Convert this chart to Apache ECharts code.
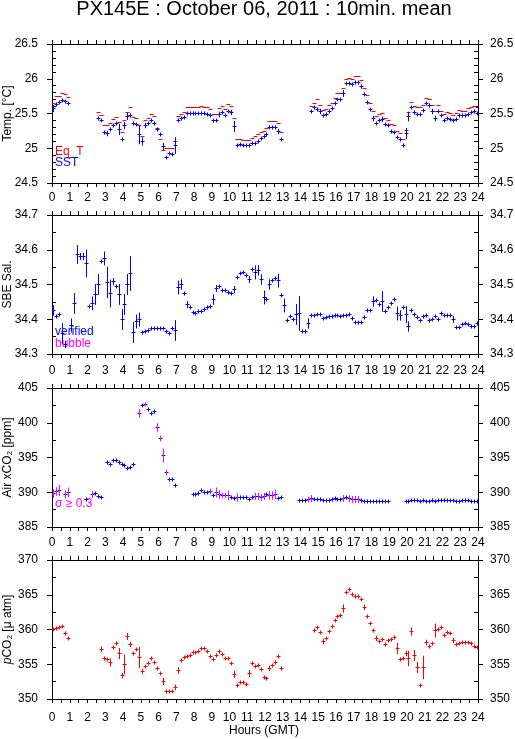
<!DOCTYPE html>
<html><head><meta charset="utf-8">
<script src="https://cdn.jsdelivr.net/npm/echarts@6/dist/echarts.min.js"></script>
<style>html,body{margin:0;padding:0;background:#fff}#c{width:515px;height:739px}</style>
</head><body><div id="c"></div>
<script>
// Each entry: [10-min slot index of the day (0..143), value, error/sigma, flag]
const eqT = [
[0,25.65],[1,25.75],[2,25.75],[3,25.79],[4,25.78],[5,25.74],
[15,25.52],[16,25.48],[17,25.34],
[18,25.33],[19,25.36],[20,25.42],[21,25.45],[22,25.38],[23,25.23],
[24,25.40],[25,25.52],[26,25.59],[27,25.45],[28,25.44],[29,25.33],
[30,25.18],[31,25.41],[32,25.44],[33,25.49],[34,25.47],[35,25.29],
[36,25.13],[37,24.98],[38,25.00],[39,25.00],[40,25.00],[41,25.10],
[42,25.47],[43,25.50],[44,25.52],[45,25.59],[46,25.59],[47,25.59],
[48,25.59],[49,25.60],[50,25.61],[51,25.60],[52,25.59],[53,25.57],
[54,25.49],[55,25.49],[56,25.58],[57,25.61],[58,25.57],[59,25.64],
[60,25.61],[61,25.44],[62,25.13],[63,25.14],[64,25.12],[65,25.12],
[66,25.12],[67,25.15],[68,25.18],[69,25.20],[70,25.24],[71,25.25],
[72,25.29],[73,25.39],[74,25.39],[75,25.39],[76,25.36],[77,25.23],
[87,25.61],[88,25.65],[89,25.71],
[90,25.62],[91,25.55],[92,25.57],[93,25.62],[94,25.65],[95,25.72],
[96,25.80],[97,25.80],[98,25.87],[99,26.00],[100,26.01],[101,26.00],
[102,26.04],[103,26.04],[104,25.98],[105,25.87],[106,25.76],[107,25.65],
[108,25.54],[109,25.47],[110,25.49],[111,25.51],[112,25.44],[113,25.41],
[114,25.35],[115,25.34],[116,25.25],[117,25.22],[118,25.13],[119,25.26],
[120,25.52],[121,25.66],[122,25.61],[123,25.59],[124,25.59],[125,25.62],
[126,25.72],[127,25.71],[128,25.62],[129,25.53],[130,25.62],[131,25.54],
[132,25.49],[133,25.52],[134,25.51],[135,25.48],[136,25.51],[137,25.55],
[138,25.54],[139,25.54],[140,25.58],[141,25.60],[142,25.61],[143,25.59]
];
const sst = [
[0,25.58,0.05],[1,25.64],[2,25.66],[3,25.70],[4,25.68],[5,25.65],
[15,25.44],[16,25.40],[17,25.23,0.03],
[18,25.22,0.04],[19,25.28,0.03],[20,25.34],[21,25.36],[22,25.28,0.08],[23,25.13,0.03],
[24,25.33,0.05],[25,25.46,0.05],[26,25.48,0.03],[27,25.36],[28,25.35],[29,25.21,0.14],
[30,25.10,0.06],[31,25.33,0.04],[32,25.37],[33,25.41],[34,25.36,0.03],[35,25.28,0.03],
[36,25.21],[37,25.03,0.05],[38,24.87],[39,24.93],[40,24.92],[41,25.05,0.12],
[42,25.40],[43,25.43],[44,25.45],[45,25.51],[46,25.51],[47,25.51],
[48,25.51],[49,25.51],[50,25.51],[51,25.51],[52,25.50],[53,25.48],
[54,25.41],[55,25.41],[56,25.50,0.04],[57,25.52],[58,25.48],[59,25.54],
[60,25.52,0.04],[61,25.32,0.08],[62,25.04],[63,25.06],[64,25.04],[65,25.05],
[66,25.05],[67,25.08],[68,25.08],[69,25.10],[70,25.15],[71,25.17],
[72,25.20],[73,25.30],[74,25.30],[75,25.30],[76,25.25,0.04],[77,25.13],
[87,25.54,0.03],[88,25.59],[89,25.57],
[90,25.54,0.04],[91,25.48],[92,25.49],[93,25.54],[94,25.58],[95,25.65],
[96,25.71],[97,25.71],[98,25.79,0.05],[99,25.94],[100,25.94],[101,25.93],
[102,25.96],[103,25.96],[104,25.89,0.03],[105,25.78],[106,25.67],[107,25.57],
[108,25.44,0.04],[109,25.36],[110,25.40],[111,25.42,0.04],[112,25.35],[113,25.33],
[114,25.25],[115,25.24],[116,25.16],[117,25.13],[118,25.04],[119,25.22,0.08],
[120,25.47,0.07],[121,25.59],[122,25.52],[123,25.50],[124,25.50],[125,25.55],
[126,25.65],[127,25.62],[128,25.53,0.04],[129,25.44,0.04],[130,25.53],[131,25.48],
[132,25.40],[133,25.43],[134,25.42],[135,25.40],[136,25.42],[137,25.48],
[138,25.48],[139,25.48],[140,25.50],[141,25.52],[142,25.53],[143,25.51]
];
const sal = [
[0,34.428,0.015],[1,34.408],[2,34.415],[3,34.36,0.03],[4,34.33,0.01],
[6,34.384,0.02],[7,34.447,0.03],[8,34.589,0.027],[9,34.582,0.01],[10,34.582,0.01],[11,34.563,0.04],
[12,34.437],[13,34.447,0.02],[14,34.473,0.03],[15,34.502,0.03],[16,34.568],[17,34.575,0.02],
[18,34.507,0.045],[19,34.476,0.04],[20,34.510,0.01],[21,34.495],[22,34.473,0.03],[23,34.401,0.03],
[24,34.444,0.03],[25,34.502,0.03],[26,34.532,0.05],[27,34.362,0.03],[28,34.394,0.02],[29,34.400,0.02],
[30,34.362],[31,34.365],[32,34.370],[33,34.374],[34,34.374],[35,34.374],
[36,34.374],[37,34.374],[38,34.365],[39,34.360],[40,34.374],[41,34.370,0.03],
[42,34.493,0.02],[43,34.502,0.015],[44,34.476],[45,34.444,0.01],[46,34.434],[47,34.421],
[48,34.418],[49,34.425],[50,34.425],[51,34.430],[52,34.434],[53,34.437],
[54,34.459,0.015],[55,34.490,0.01],[56,34.497],[57,34.483],[58,34.483],[59,34.479],
[60,34.476],[61,34.486,0.01],[62,34.522],[63,34.534],[64,34.537],[65,34.526],
[66,34.515,0.01],[67,34.545],[68,34.536,0.02],[69,34.543,0.015],[70,34.515,0.015],[71,34.464,0.02],
[72,34.458],[73,34.502,0.015],[74,34.512],[75,34.519],[76,34.512,0.02],[77,34.469],
[78,34.441,0.02],[79,34.399],[80,34.408],[81,34.401],[82,34.416,0.03],[83,34.418,0.05],
[84,34.365],[85,34.367],[86,34.389,0.015],[87,34.412],[88,34.412],[89,34.414],
[90,34.414],[91,34.404],[92,34.406],[93,34.408],[94,34.410],[95,34.411],
[96,34.411],[97,34.410],[98,34.411],[99,34.413],[100,34.415],[101,34.404],
[102,34.391],[103,34.391],[104,34.393],[105,34.406],[106,34.426],[107,34.426],
[108,34.452,0.015],[109,34.455],[110,34.445],[111,34.452,0.03],[112,34.425],[113,34.434],
[114,34.447],[115,34.459],[116,34.418,0.02],[117,34.413,0.015],[118,34.435],[119,34.415,0.025],
[120,34.381,0.015],[121,34.426],[122,34.415],[123,34.406],[124,34.397],[125,34.408],
[126,34.413],[127,34.397],[128,34.400],[129,34.408],[130,34.401],[131,34.418],
[132,34.413],[133,34.413],[134,34.413],[135,34.400,0.01],[136,34.379],[137,34.377],
[138,34.386],[139,34.389],[140,34.387],[141,34.382],[142,34.382],[143,34.389]
];
// flag 1: sigma >= 0.3 (magenta)
const xco2 = [
[0,389.84,0.6,1],[1,390.23,0.6,1],[2,390.33,0.8,1],[4,389.75,0.6,1],[5,390.0,0.7,1],
[11,388.97],[13,389.75,0.5,1],[14,389.94],[15,389.5],[16,389.36],
[18,394.35],[19,394.0],[20,394.6],[21,394.6],[22,394.35],[23,394.1],
[24,393.86],[25,393.5],[26,393.7],[27,394.0],
[29,401.37,0.6,1],[30,402.58],[31,402.72,0.3,1],[32,401.95],[33,401.37],[34,401.76],[35,399.43,0.6,1],
[36,397.83,0.4,1],[37,395.32,1.0,1],[38,392.9,0.4,1],[39,391.92],[40,391.88],[41,391.05],
[47,389.75],[48,389.75],[49,389.89],[50,390.38],[51,390.04],[52,390.04],[53,390.13,0.4,1],
[54,389.6],[55,390.0,0.7,1],[56,389.75,0.6,1],[57,389.55,0.4,1],[58,389.6,0.4,1],[59,389.6,0.7,1],
[60,389.26],[61,389.16],[62,389.26,0.6,1],[63,389.26],[64,389.26],[65,389.26],
[66,389.1],[67,389.26],[68,389.4,0.5,1],[69,389.4,0.5,1],[70,389.36,0.5,1],[71,389.4,0.5,1],
[72,389.7],[73,389.65,0.6,1],[74,389.65,0.6,1],[75,389.75,0.7,1],[76,389.16],[77,389.3],
[83,388.87],[84,388.87],[85,388.87],[86,389.07,0.4,1],[87,389.16,0.5,1],[88,389.07],[89,389.0],
[90,389.0],[91,388.87],[92,388.87],[93,388.87],[94,389.0],[95,389.16],
[96,389.07],[97,388.97],[98,389.16,0.5,1],[99,389.26],[100,389.2,0.5,1],[101,389.0,0.5,1],
[102,389.0,0.5,1],[103,389.0,0.5,1],[104,388.87],[105,388.73],[106,388.73],[107,388.75],
[108,388.73],[109,388.73],[110,388.75],[111,388.73],[112,388.73],[113,388.73],
[119,388.77],[120,388.8],[121,388.85],[122,388.9],[123,388.85],[124,388.8],[125,388.9],
[126,388.8],[127,388.8],[128,388.85],[129,388.8],[130,388.9],[131,388.9],
[132,388.85],[133,388.85],[134,388.85],[135,388.9],[136,388.8],[137,388.8],
[138,388.85],[139,388.85],[140,388.85],[141,388.8],[142,388.8],[143,388.8]
];
const pco2 = [
[0,360.02],[1,360.17],[2,360.41],[3,360.55],[4,359.45,0.3],[5,358.72],
[16,357.13,0.4],[17,355.83],[18,355.69],[19,355.35,0.6],[20,357.52],[21,358.1],[22,356.55,0.8],[23,353.42,0.4],
[24,355.1,1.4],[25,359.06,0.5],[26,357.86,0.4],[27,356.55,0.3],[28,357.13],[29,356.07,1.5],
[30,354.05,0.4],[31,354.72],[32,355.2],[33,355.83],[34,355.35],[35,354.48],
[36,353.81],[37,352.55,0.5],[38,351.2],[39,351.2],[40,351.16],[41,351.73,0.4],
[42,354.24,0.5],[43,355.59],[44,356.07],[45,356.22],[46,356.31],[47,356.8],
[48,356.7],[49,356.89],[50,357.28],[51,357.28],[52,356.89],[53,356.22],
[54,355.74],[55,356.31],[56,356.89,0.3],[57,356.41],[58,355.83],[59,355.83],
[60,355.2],[61,353.66,0.5],[62,352.07],[63,352.46],[64,352.46],[65,352.22],
[66,353.81,0.5],[67,355.2],[68,354.72],[69,354.96],[70,354.29],[71,353.18],
[72,353.04],[73,354.53,0.4],[74,354.87],[75,355.35],[76,356.17,0.3],[77,354.39,0.3],
[88,359.93],[89,360.31],
[90,359.59],[91,358.39,0.4],[92,358.72],[93,359.78],[94,360.5],[95,361.33],
[96,362.0],[97,362.1],[98,363.06,0.6],[99,365.37],[100,365.8],[101,365.08],
[102,364.84],[103,364.84],[104,364.41],[105,363.3,0.4],[106,362.0],[107,360.89],
[108,359.93],[109,358.72,0.4],[110,358.34],[111,358.58],[112,357.9],[113,358.48],
[114,358.58],[115,358.96],[116,357.37,0.8],[117,355.69],[118,355.83],[119,356.65,0.4],
[120,355.83,1.1],[121,359.83,0.6],[122,356.31,0.8],[123,354.63,0.8],[124,352.07],[125,354.63,1.7],
[126,358.24,0.4],[127,357.61],[128,358.1,0.3],[129,359.93,1.0],[130,360.07],[131,360.31],
[132,359.2],[133,359.59],[134,359.45],[135,358.48,0.4],[136,357.86],[137,358.0],
[138,358.14],[139,358.14],[140,358.24],[141,358.1],[142,357.66],[143,357.42]
];
const panelNames = ['Temp. [°C]', 'SBE Sal.', 'Air xCO₂ [ppm]', '{i|p}CO₂ [μ atm]'];
const yMin = [24.5, 34.3, 385, 350];
const yMax = [26.5, 34.7, 405, 370];
const yStep = [0.5, 0.1, 5, 5];
const yMinorSplit = [5, 2, 2, 2];
const hourMin = 0, hourMax = 24, hourStep = 1;
const titleText = 'PX145E : October 06, 2011 : 10min. mean';

const FONT = '"Liberation Sans", Arial, Helvetica, sans-serif';
const BLUE = '#0000ff', RED = '#ff0000', MAG = '#ff00ff', BLACK = '#000000';
const L = 52, W = 426, H = 139, tops = [44, 215, 388, 560];

const chart = echarts.init(document.getElementById('c'), null, {renderer: 'canvas'});

const grids = tops.map(t => ({left: L, top: t, width: W, height: H, containLabel: false, outerBoundsMode: 'none'}));
const xAxes = [], yAxes = [];
tops.forEach((t, i) => {
  ['bottom', 'top'].forEach(pos => {
    const showLab = (pos === 'top' && i > 0) || (pos === 'bottom' && i === 3);
    xAxes.push({
      type: 'value', gridIndex: i, position: pos, min: hourMin, max: hourMax, interval: hourStep,
      axisLine: {show: true, onZero: false, lineStyle: {color: BLACK, width: 1}},
      axisTick: {show: true, length: 4, lineStyle: {color: BLACK, width: 1}},
      minorTick: {show: true, splitNumber: 2, length: 4, lineStyle: {color: BLACK, width: 1}},
      splitLine: {show: false}, minorSplitLine: {show: false},
      axisLabel: {show: showLab, margin: pos === 'top' ? 11 : 13, color: BLACK, fontSize: 12, fontFamily: FONT}
    });
  });
  ['left', 'right'].forEach(pos => {
    yAxes.push({
      type: 'value', gridIndex: i, position: pos, min: yMin[i], max: yMax[i], interval: yStep[i],
      axisLine: {show: true, onZero: false, lineStyle: {color: BLACK, width: 1}},
      axisTick: {show: true, length: 5, lineStyle: {color: BLACK, width: 1}},
      splitLine: {show: false},
      axisLabel: {show: true, margin: pos === 'left' ? 14 : 12, color: BLACK, fontSize: 12, fontFamily: FONT}
    });
    yAxes.push({
      type: 'value', gridIndex: i, position: pos, min: yMin[i], max: yMax[i], interval: yStep[i],
      axisLine: {show: false, onZero: false},
      axisTick: {show: false, inside: true},
      minorTick: {show: true, splitNumber: yMinorSplit[i], length: 4, lineStyle: {color: BLACK, width: 1}},
      splitLine: {show: false}, minorSplitLine: {show: false},
      axisLabel: {show: false}
    });
  });
});

function makeSeries(data, panel, color, halfW, minV) {
  return {
    type: 'custom', coordinateSystem: 'cartesian2d',
    xAxisIndex: panel * 2, yAxisIndex: panel * 4, clip: true, silent: true,
    data: data.map(d => [(d[0] + 0.5) / 6, d[1], d[2] || 0, d[3] || 0]),
    encode: {x: 0, y: 1},
    renderItem: function (params, api) {
      const x = api.value(0), y = api.value(1), e = api.value(2), f = api.value(3);
      const c = api.coord([x, y]);
      const cx = Math.round(c[0]) + 0.5, cy = Math.round(c[1]) + 0.5;
      const ey = Math.abs(api.coord([x, y + e])[1] - c[1]);
      const dy = Math.max(ey, minV);
      const children = [{
        type: 'line', shape: {x1: cx - halfW, y1: cy, x2: cx + halfW, y2: cy},
        style: {stroke: color, lineWidth: 1}
      }];
      if (dy > 0) {
        children.push({
          type: 'line', shape: {x1: cx, y1: cy - dy, x2: cx, y2: cy + dy},
          style: {stroke: f ? MAG : color, lineWidth: 1}
        });
      }
      return {type: 'group', children: children};
    }
  };
}

const series = [
  makeSeries(eqT, 0, RED, 2, 0),
  makeSeries(sst, 0, BLUE, 2, 2),
  makeSeries(sal, 1, BLUE, 2, 2),
  makeSeries(xco2, 2, BLUE, 2, 2),
  makeSeries(pco2, 3, RED, 2, 2)
];

const txt = (x, y, text, color, extra) => Object.assign({
  type: 'text', x: x, y: y, silent: true,
  style: Object.assign({text: text, fill: color || BLACK, font: '12px ' + FONT, align: 'left', verticalAlign: 'middle'}, extra || {})
});

const graphics = [
  {type: 'text', x: 264, y: 9, silent: true, style: {text: titleText, fill: BLACK, font: '20px ' + FONT, align: 'center', verticalAlign: 'middle'}},
  {type: 'text', x: 264, y: 731, silent: true, style: {text: 'Hours (GMT)', fill: BLACK, font: '12px ' + FONT, align: 'center', verticalAlign: 'middle'}},
  {type: 'text', x: 55, y: 152, silent: true, style: {text: 'Eq_T', fill: RED, font: '12px ' + FONT, align: 'left', verticalAlign: 'middle'}},
  {type: 'text', x: 55, y: 163, silent: true, style: {text: 'SST', fill: BLUE, font: '12px ' + FONT, align: 'left', verticalAlign: 'middle'}},
  {type: 'text', x: 55, y: 332, silent: true, style: {text: 'verified', fill: BLUE, font: '12px ' + FONT, align: 'left', verticalAlign: 'middle'}},
  {type: 'text', x: 55, y: 344, silent: true, style: {text: 'bubble', fill: MAG, font: '12px ' + FONT, align: 'left', verticalAlign: 'middle'}},
  {type: 'text', x: 55, y: 504, silent: true, style: {text: 'σ ≥ 0.3', fill: MAG, font: '12px ' + FONT, align: 'left', verticalAlign: 'middle'}}
];
panelNames.forEach((n, i) => {
  graphics.push({
    type: 'text', x: 8, y: tops[i] + H / 2, rotation: Math.PI / 2, silent: true,
    style: {text: n, fill: BLACK, font: '12px ' + FONT, align: 'center', verticalAlign: 'middle',
      rich: {i: {fontStyle: 'italic', fontSize: 12, fontFamily: FONT, fill: BLACK}}}
  });
});

chart.setOption({
  animation: false,
  backgroundColor: '#ffffff',
  textStyle: {fontFamily: FONT},
  grid: grids,
  xAxis: xAxes,
  yAxis: yAxes,
  series: series,
  graphic: graphics
});
</script>
</body></html>
